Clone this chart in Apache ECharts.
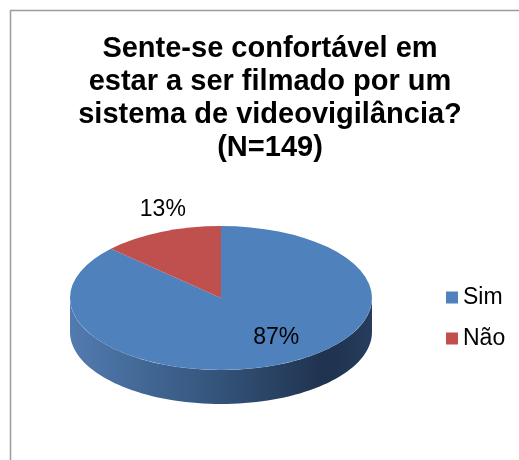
<!DOCTYPE html>
<html>
<head>
<meta charset="utf-8">
<script src="https://cdn.jsdelivr.net/npm/echarts@6/dist/echarts.min.js"></script>
<style>
html, body { margin: 0; padding: 0; background: #fff; }
#chart { width: 519px; height: 460px; }
</style>
</head>
<body>
<div id="chart"></div>
<script>
var titleText = 'Sente-se confortável em\nestar a ser filmado por um\nsistema de videovigilância?\n(N=149)';
var categories = ['Sim', 'Não'];
var values = [87, 13];
var colors = ['#4f81bd', '#c0504d'];
var sideColors = [
    ['#527bb0', '#36577f', '#1f324e', '#263d5e'],
    ['#c0504d', '#8f3a37', '#5f2624', '#6c2b29']
];

// fake 3d pie: flattened top + extruded front rim
var cx = 221, cy = 298, rx = 151, ry = 72, depth = 34;
var font = '"Liberation Sans", Arial, sans-serif';
var total = values.reduce(function (a, b) { return a + b; }, 0);

function sliceAngles(i) {
    var start = -Math.PI / 2;
    for (var k = 0; k < i; k++) start += values[k] / total * Math.PI * 2;
    return [start, start + values[i] / total * Math.PI * 2];
}

function renderSlice(params, api) {
    var i = params.seriesIndex;
    var ang = sliceAngles(i);
    var children = [];
    var fronts = [[-2 * Math.PI, -Math.PI], [0, Math.PI], [2 * Math.PI, 3 * Math.PI]];
    fronts.forEach(function (r) {
        var lo = Math.max(ang[0], r[0]), hi = Math.min(ang[1], r[1]);
        if (hi <= lo) return;
        var pts = [], n = 80, s, t;
        for (s = 0; s <= n; s++) {
            t = lo + (hi - lo) * s / n;
            pts.push([cx + rx * Math.cos(t), cy + ry * Math.sin(t)]);
        }
        for (s = n; s >= 0; s--) {
            t = lo + (hi - lo) * s / n;
            pts.push([cx + rx * Math.cos(t), cy + depth + ry * Math.sin(t)]);
        }
        var sc = sideColors[i];
        children.push({
            type: 'polygon',
            z2: 1,
            shape: { points: pts },
            style: {
                fill: new echarts.graphic.LinearGradient(0, 0, 1, 0, [
                    { offset: 0, color: sc[0] },
                    { offset: 0.45, color: sc[1] },
                    { offset: 0.85, color: sc[2] },
                    { offset: 1, color: sc[3] }
                ])
            }
        });
    });
    children.push({
        type: 'sector',
        z2: 10,
        x: cx,
        y: cy,
        scaleY: ry / rx,
        shape: { cx: 0, cy: 0, r: rx, r0: 0, startAngle: ang[0], endAngle: ang[1] },
        style: { fill: colors[i] }
    });
    var mid = (ang[0] + ang[1]) / 2;
    var share = api.value(0) / total;
    var lx, ly;
    if (share < 0.2) {
        lx = cx + rx * 0.97 * Math.cos(mid);
        ly = cy + (ry + 24) * Math.sin(mid);
    } else {
        lx = cx + rx * 0.92 * Math.cos(mid);
        ly = cy + ry * 0.6 * Math.sin(mid);
    }
    children.push({
        type: 'text',
        z2: 20,
        x: lx,
        y: ly,
        style: {
            text: Math.round(share * 100) + '%',
            fill: '#000',
            font: '23px ' + font,
            align: 'center',
            verticalAlign: 'middle'
        }
    });
    return { type: 'group', children: children };
}

var myChart = echarts.init(document.getElementById('chart'));
var option = {
    animation: false,
    color: colors,
    title: {
        text: titleText,
        left: 270,
        textAlign: 'center',
        top: 32,
        padding: 0,
        textStyle: {
            fontFamily: font,
            fontSize: 29,
            fontWeight: 'bold',
            lineHeight: 33,
            color: '#000'
        }
    },
    legend: {
        data: categories,
        orient: 'vertical',
        left: 441,
        top: 281,
        icon: 'rect',
        itemWidth: 12,
        itemHeight: 12,
        itemGap: 18,
        textStyle: { fontFamily: font, fontSize: 23, lineHeight: 23, color: '#000' }
    },
    graphic: [{
        type: 'rect',
        shape: { x: 10.5, y: 10.5, width: 700, height: 700 },
        style: { fill: 'none', stroke: '#9c9c9c', lineWidth: 1.5 },
        silent: true
    }],
    series: categories.map(function (name, i) {
        return {
            name: name,
            type: 'custom',
            coordinateSystem: 'none',
            itemStyle: { color: colors[i] },
            renderItem: renderSlice,
            data: [values[i]]
        };
    })
};
myChart.setOption(option);
</script>
</body>
</html>
